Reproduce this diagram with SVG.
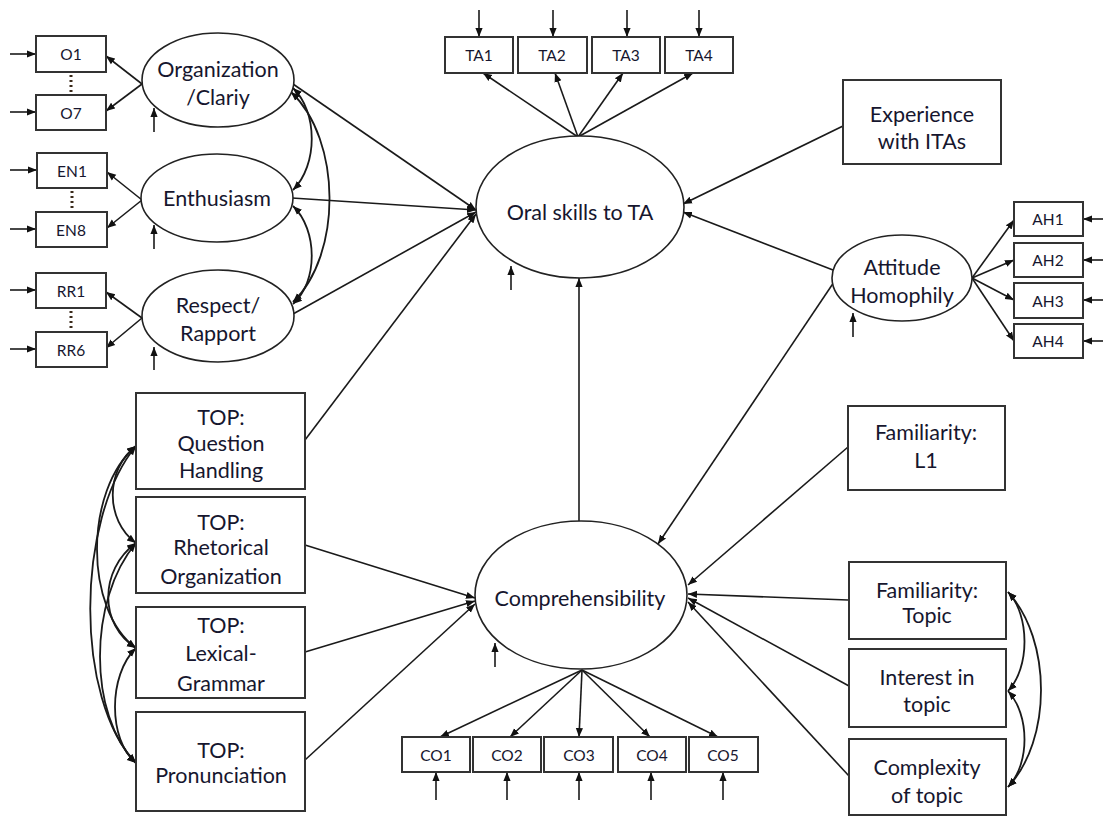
<svg xmlns="http://www.w3.org/2000/svg" width="1103" height="816" viewBox="0 0 1103 816">
  <style>
    .box { fill: #ffffff; stroke: #333333; stroke-width: 2; }
    .ell { fill: #ffffff; stroke: #222222; stroke-width: 1.6; }
    .t { font-family: Lato, "Liberation Sans", sans-serif; font-size: 21.5px; fill: #16162e; text-anchor: middle; }
    .ts { font-family: Lato, "Liberation Sans", sans-serif; font-size: 15.5px; fill: #16162e; text-anchor: middle; }
    .c { fill: none; stroke: #1a1a1a; stroke-width: 1.6; marker-end: url(#ah); }
    .cv { fill: none; stroke: #1a1a1a; stroke-width: 1.8; marker-start: url(#ah); marker-end: url(#ah); }
    .dots { stroke: #3a2a1a; stroke-width: 3; stroke-dasharray: 2 3; }
  </style>
  <defs>
    <marker id="ah" viewBox="0 0 10 10" refX="10" refY="5" markerWidth="9" markerHeight="9" markerUnits="userSpaceOnUse" orient="auto-start-reverse">
      <path d="M0,1 L10,5 L0,9 z" fill="#111111"/>
    </marker>
  </defs>
  <rect width="1103" height="816" fill="#ffffff"/>

  <!-- paths between nodes -->
  <g id="connectors">
    <!-- error terms on the left indicators -->
    <path class="c" d="M10,54 L36,54"/>
    <path class="c" d="M10,112 L36,112"/>
    <path class="c" d="M10,170 L37,170"/>
    <path class="c" d="M10,229 L36,229"/>
    <path class="c" d="M10,290 L36,290"/>
    <path class="c" d="M10,349 L36,349"/>
    <!-- latent factor loadings, left -->
    <path class="c" d="M142,84 L106,56"/>
    <path class="c" d="M142,84 L106,111"/>
    <path class="c" d="M142,200 L107,172"/>
    <path class="c" d="M142,200 L107,228"/>
    <path class="c" d="M142,318 L106,292"/>
    <path class="c" d="M142,318 L106,348"/>
    <!-- disturbances of left factors -->
    <path class="c" d="M154,132 L154,108"/>
    <path class="c" d="M154,249 L154,225"/>
    <path class="c" d="M154,370 L154,347"/>
    <!-- covariances among left factors -->
    <path class="cv" d="M293,88 C318,112 318,165 293,190"/>
    <path class="cv" d="M293,206 C318,230 318,282 293,304"/>
    <path class="cv" d="M291,92 C342,140 342,255 293,302"/>
    <!-- left factors to oral skills -->
    <path class="c" d="M293,84 L476,210"/>
    <path class="c" d="M292,198 L476,210"/>
    <path class="c" d="M293,314 L476,212"/>
    <!-- oral skills indicators -->
    <path class="c" d="M479,10 L479,37"/>
    <path class="c" d="M553,10 L553,37"/>
    <path class="c" d="M627,10 L627,37"/>
    <path class="c" d="M699,10 L699,37"/>
    <path class="c" d="M578,137 L483,73"/>
    <path class="c" d="M578,137 L555,73"/>
    <path class="c" d="M578,137 L623,73"/>
    <path class="c" d="M578,137 L693,73"/>
    <!-- disturbances of latent outcomes -->
    <path class="c" d="M511,290 L511,266"/>
    <path class="c" d="M495,667 L495,643"/>
    <path class="c" d="M853,337 L853,313"/>
    <!-- structural paths into oral skills -->
    <path class="c" d="M843,126 L683,204"/>
    <path class="c" d="M833,270 L683,212"/>
    <path class="c" d="M579,521 L579,278"/>
    <path class="c" d="M305,440 L476,214"/>
    <!-- attitude homophily indicators -->
    <path class="c" d="M972,278 L1014,220"/>
    <path class="c" d="M972,278 L1014,260"/>
    <path class="c" d="M972,278 L1014,300"/>
    <path class="c" d="M972,278 L1014,341"/>
    <path class="c" d="M1103,219 L1083,219"/>
    <path class="c" d="M1103,260 L1083,260"/>
    <path class="c" d="M1103,300 L1083,300"/>
    <path class="c" d="M1103,341 L1083,341"/>
    <!-- structural paths into comprehensibility -->
    <path class="c" d="M834,282 L658,544"/>
    <path class="c" d="M848,447 L688,585"/>
    <path class="c" d="M848,600 L688,594"/>
    <path class="c" d="M849,686 L688,598"/>
    <path class="c" d="M849,776 L688,602"/>
    <path class="c" d="M305,545 L475,598"/>
    <path class="c" d="M305,652 L475,601"/>
    <path class="c" d="M305,760 L475,604"/>
    <!-- comprehensibility indicators -->
    <path class="c" d="M582,670 L440,737"/>
    <path class="c" d="M582,670 L510,737"/>
    <path class="c" d="M582,670 L579,737"/>
    <path class="c" d="M582,670 L650,737"/>
    <path class="c" d="M582,670 L718,737"/>
    <path class="c" d="M436,800 L436,772"/>
    <path class="c" d="M507,800 L507,772"/>
    <path class="c" d="M579,800 L579,772"/>
    <path class="c" d="M651,800 L651,772"/>
    <path class="c" d="M723,800 L723,772"/>
    <!-- covariances among TOP ratings -->
    <path class="cv" d="M136,446 C105,470 105,520 136,543"/>
    <path class="cv" d="M136,446 C84,490 84,610 136,648"/>
    <path class="cv" d="M136,446 C75,520 75,700 136,763"/>
    <path class="cv" d="M136,543 C99,570 99,625 136,648"/>
    <path class="cv" d="M136,543 C88,600 88,715 136,763"/>
    <path class="cv" d="M136,648 C108,675 108,740 136,763"/>
    <!-- covariances among topic variables -->
    <path class="cv" d="M1008,592 C1030,615 1030,668 1008,691"/>
    <path class="cv" d="M1008,691 C1030,715 1030,764 1008,787"/>
    <path class="cv" d="M1008,592 C1052,640 1052,740 1008,787"/>
  </g>

  <!-- observed indicators, left -->
  <g id="o1"><rect class="box" x="36" y="36" width="70" height="36"/><text class="ts" x="71" y="60">O1</text></g>
  <line class="dots" x1="71" y1="75" x2="71" y2="93"/>
  <g id="o7"><rect class="box" x="36" y="95" width="70" height="35"/><text class="ts" x="71" y="119">O7</text></g>
  <g id="en1"><rect class="box" x="37" y="153" width="70" height="35"/><text class="ts" x="72" y="177">EN1</text></g>
  <line class="dots" x1="72" y1="191" x2="72" y2="209"/>
  <g id="en8"><rect class="box" x="36" y="212" width="71" height="35"/><text class="ts" x="71" y="236">EN8</text></g>
  <g id="rr1"><rect class="box" x="36" y="273" width="70" height="35"/><text class="ts" x="71" y="297">RR1</text></g>
  <line class="dots" x1="71" y1="311" x2="71" y2="329"/>
  <g id="rr6"><rect class="box" x="36" y="332" width="71" height="35"/><text class="ts" x="71" y="356">RR6</text></g>

  <!-- left latent factors -->
  <g id="organization"><ellipse class="ell" cx="218" cy="80" rx="76" ry="47"/><text class="t" x="218" y="77">Organization</text><text class="t" x="218" y="105">/Clariy</text></g>
  <g id="enthusiasm"><ellipse class="ell" cx="217" cy="198" rx="76" ry="44"/><text class="t" x="217" y="206">Enthusiasm</text></g>
  <g id="respect"><ellipse class="ell" cx="218" cy="316" rx="76" ry="46"/><text class="t" x="218" y="313">Respect/</text><text class="t" x="218" y="341">Rapport</text></g>

  <!-- oral skills indicators -->
  <g id="ta1"><rect class="box" x="445" y="37" width="68" height="36"/><text class="ts" x="479" y="61">TA1</text></g>
  <g id="ta2"><rect class="box" x="518" y="37" width="69" height="36"/><text class="ts" x="552" y="61">TA2</text></g>
  <g id="ta3"><rect class="box" x="592" y="37" width="68" height="36"/><text class="ts" x="626" y="61">TA3</text></g>
  <g id="ta4"><rect class="box" x="665" y="37" width="68" height="36"/><text class="ts" x="699" y="61">TA4</text></g>

  <!-- latent outcomes -->
  <g id="oral-skills"><ellipse class="ell" cx="580" cy="207" rx="104" ry="71"/><text class="t" x="580" y="220">Oral skills to TA</text></g>
  <g id="comprehensibility"><ellipse class="ell" cx="581" cy="595" rx="106" ry="74"/><text class="t" x="580" y="606">Comprehensibility</text></g>

  <!-- right-hand predictors -->
  <g id="experience"><rect class="box" x="843" y="80" width="158" height="84"/><text class="t" x="922" y="122">Experience</text><text class="t" x="922" y="149">with ITAs</text></g>
  <g id="attitude"><ellipse class="ell" cx="902" cy="278" rx="70" ry="43"/><text class="t" x="902" y="275">Attitude</text><text class="t" x="902" y="303">Homophily</text></g>
  <g id="ah1"><rect class="box" x="1014" y="202" width="69" height="34"/><text class="ts" x="1048" y="225">AH1</text></g>
  <g id="ah2"><rect class="box" x="1014" y="243" width="69" height="34"/><text class="ts" x="1048" y="266">AH2</text></g>
  <g id="ah3"><rect class="box" x="1014" y="283" width="69" height="35"/><text class="ts" x="1048" y="307">AH3</text></g>
  <g id="ah4"><rect class="box" x="1014" y="324" width="69" height="34"/><text class="ts" x="1048" y="347">AH4</text></g>
  <g id="familiarity-l1"><rect class="box" x="848" y="406" width="157" height="84"/><text class="t" x="926" y="440">Familiarity:</text><text class="t" x="926" y="468">L1</text></g>
  <g id="familiarity-topic"><rect class="box" x="849" y="562" width="157" height="77"/><text class="t" x="927" y="598">Familiarity:</text><text class="t" x="927" y="623">Topic</text></g>
  <g id="interest"><rect class="box" x="849" y="649" width="157" height="78"/><text class="t" x="927" y="685">Interest in</text><text class="t" x="927" y="712">topic</text></g>
  <g id="complexity"><rect class="box" x="849" y="739" width="157" height="76"/><text class="t" x="927" y="775">Complexity</text><text class="t" x="927" y="803">of topic</text></g>

  <!-- TOP ratings -->
  <g id="top-question"><rect class="box" x="136" y="393" width="169" height="96"/><text class="t" x="221" y="425">TOP:</text><text class="t" x="221" y="451">Question</text><text class="t" x="221" y="478">Handling</text></g>
  <g id="top-rhetorical"><rect class="box" x="136" y="497" width="169" height="96"/><text class="t" x="221" y="530">TOP:</text><text class="t" x="221" y="555">Rhetorical</text><text class="t" x="221" y="584">Organization</text></g>
  <g id="top-lexical"><rect class="box" x="136" y="607" width="169" height="91"/><text class="t" x="221" y="633">TOP:</text><text class="t" x="221" y="661">Lexical-</text><text class="t" x="221" y="691">Grammar</text></g>
  <g id="top-pronunciation"><rect class="box" x="136" y="712" width="169" height="99"/><text class="t" x="221" y="758">TOP:</text><text class="t" x="221" y="783">Pronunciation</text></g>

  <!-- comprehensibility indicators -->
  <g id="co1"><rect class="box" x="402" y="737" width="68" height="35"/><text class="ts" x="436" y="761">CO1</text></g>
  <g id="co2"><rect class="box" x="473" y="737" width="68" height="35"/><text class="ts" x="507" y="761">CO2</text></g>
  <g id="co3"><rect class="box" x="544" y="737" width="69" height="35"/><text class="ts" x="579" y="761">CO3</text></g>
  <g id="co4"><rect class="box" x="618" y="737" width="68" height="35"/><text class="ts" x="652" y="761">CO4</text></g>
  <g id="co5"><rect class="box" x="689" y="737" width="69" height="35"/><text class="ts" x="723" y="761">CO5</text></g>
</svg>
